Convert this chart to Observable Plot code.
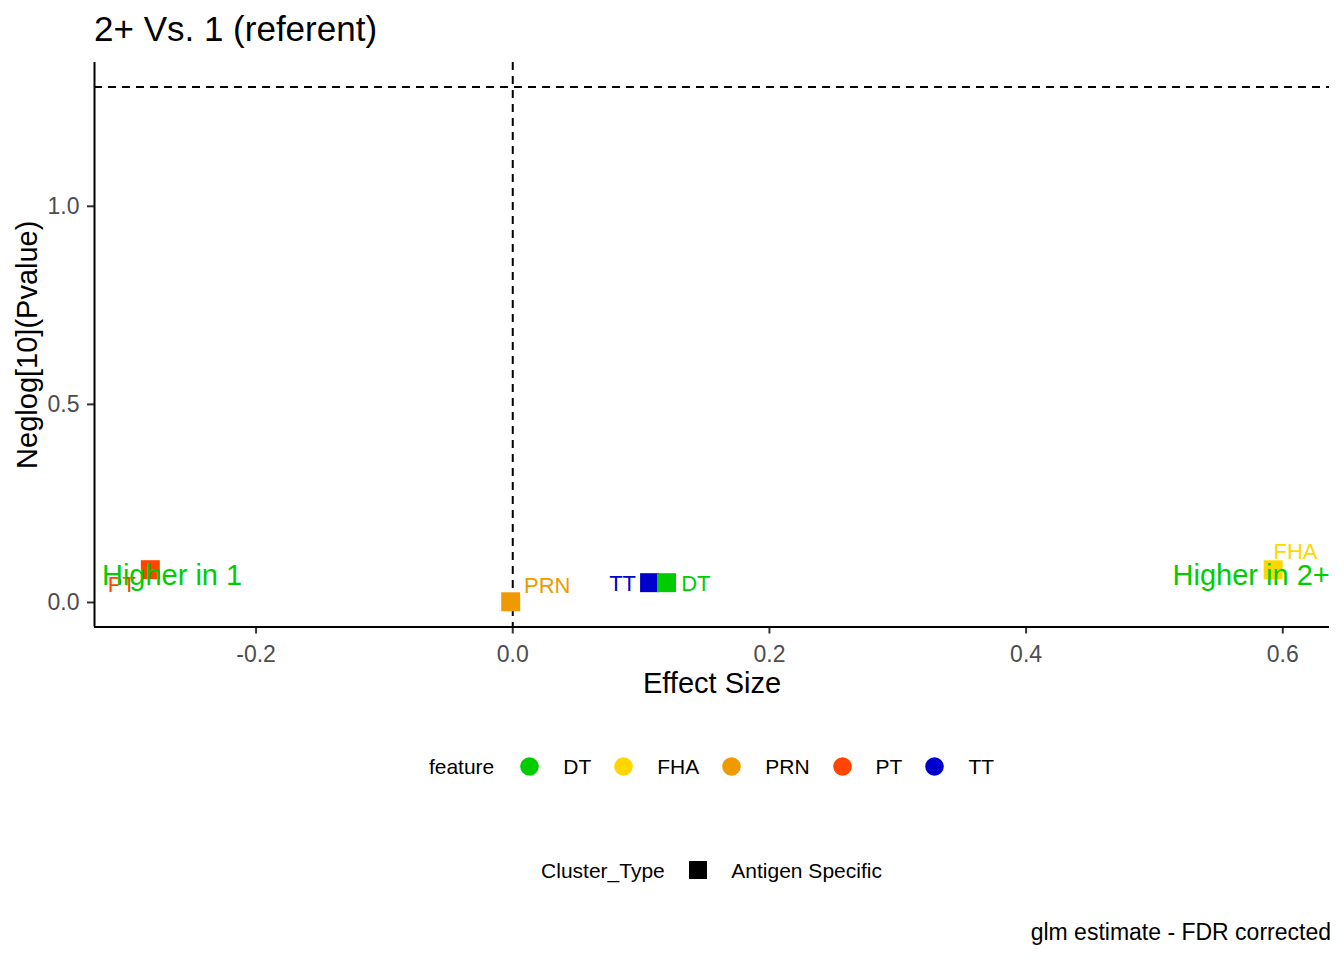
<!DOCTYPE html>
<html>
<head>
<meta charset="utf-8">
<script src="https://cdn.jsdelivr.net/npm/d3@7"></script>
<script src="https://cdn.jsdelivr.net/npm/@observablehq/plot@0.6"></script>
<style>
  html, body { margin: 0; padding: 0; background: #fff; }
  body { font-family: "Liberation Sans", Arial, sans-serif; color: #000; }
  #page { position: relative; width: 1344px; height: 960px; overflow: hidden; background: #fff; }
  #chart { position: absolute; left: 0; top: 0; }
  #title { position: absolute; left: 94px; top: 11px; font-size: 35px; line-height: 35px; white-space: nowrap; }
  .legend { position: absolute; left: 94px; width: 1235px; display: flex; justify-content: center; align-items: center; height: 24px; font-size: 21px; line-height: 21px; white-space: nowrap; }
  .legend .ttl { margin-right: 26px; }
  .legend svg { display: block; margin-right: 24px; }
  .legend .lab { margin-right: 23px; }
  .legend .lab:last-child { margin-right: 0; }
  #caption { position: absolute; right: 13px; top: 921px; font-size: 23px; line-height: 23px; white-space: nowrap; }
</style>
</head>
<body>
<div id="page">
  <div id="chart"></div>
  <div id="title">2+ Vs. 1 (referent)</div>
  <div id="legend1" class="legend" style="top:754px"></div>
  <div id="legend2" class="legend" style="top:858px"></div>
  <div id="caption">glm estimate - FDR corrected</div>
</div>
<script>
// ---- data ----
const features   = ["TT", "DT", "FHA", "PRN", "PT"];
const effectSize = [0.1066, 0.1198, 0.5925, -0.0016, -0.2824];
const negLog10P  = [0.050, 0.050, 0.0826, 0.0018, 0.0828];
const clusterType = ["Antigen Specific", "Antigen Specific", "Antigen Specific", "Antigen Specific", "Antigen Specific"];

const legendFeatures = ["DT", "FHA", "PRN", "PT", "TT"];
const featurePalette = ["#00CD00", "#FFD700", "#EE9A00", "#FF4500", "#0000CD"];
const clusterTypes = ["Antigen Specific"];

const xTicks = [-0.2, 0.0, 0.2, 0.4, 0.6];
const yTicks = [0.0, 0.5, 1.0];
const xDomain = [-0.3259, 0.6364];
const yDomain = [-0.0619, 1.363];

const pThreshold = 0.05;
const annotationLabels = ["Higher in 1", "Higher in 2+"];
const annotationX = [-0.3201, 0.6366];
const annotationY = [0.0682, 0.0682];

// ---- build tables ----
const points = features.map((f, i) => ({feature: f, x: effectSize[i], y: negLog10P[i], type: clusterType[i]}));
const annotations = annotationLabels.map((t, i) => ({label: t, x: annotationX[i], y: annotationY[i]}));

// label placement (repel-like offsets, pixels)
const labelOffset = {PT: [-28.5, 15], PRN: [36.5, -15.5], TT: [-27, 1.5], DT: [29.3, 1.5], FHA: [22.3, -18.3]};

const FONT = "Liberation Sans, Arial, sans-serif";
const fmt = d => d.toFixed(1);

const labelMarks = points.map(d => Plot.text([d], {
  x: "x", y: "y", text: "feature", fill: "feature",
  dx: labelOffset[d.feature][0], dy: labelOffset[d.feature][1],
  fontSize: 22, fontFamily: FONT, textAnchor: "middle"
}));

const plot = Plot.plot({
  width: 1344,
  height: 720,
  marginLeft: 94,
  marginRight: 15,
  marginTop: 62,
  marginBottom: 93.5,
  x: {domain: xDomain},
  y: {domain: yDomain},
  color: {domain: legendFeatures, range: featurePalette},
  style: {fontFamily: FONT, background: "#fff", overflow: "visible"},
  marks: [
    Plot.ruleY([-Math.log10(pThreshold)], {stroke: "#000", strokeWidth: 2, strokeDasharray: "8,6"}),
    Plot.ruleX([0], {stroke: "#000", strokeWidth: 2, strokeDasharray: "8,6"}),
    Plot.axisX({ticks: xTicks, tickFormat: fmt, tickSize: 7, tickPadding: 12, stroke: "#333333", strokeWidth: 2, fill: "#4D4D4D", fontSize: 23, label: null}),
    Plot.axisY({ticks: yTicks, tickFormat: fmt, tickSize: 7, tickPadding: 8, stroke: "#333333", strokeWidth: 2, fill: "#4D4D4D", fontSize: 23, label: null}),
    Plot.ruleY([yDomain[0]], {stroke: "#000", strokeWidth: 2}),
    Plot.ruleX([xDomain[0]], {stroke: "#000", strokeWidth: 2}),
    Plot.dot(points, {x: "x", y: "y", fill: "feature", symbol: "square", r: 10.7, stroke: "none"}),
    ...labelMarks,
    Plot.text(annotations.filter(d => d.x < 0), {x: "x", y: "y", text: "label", fill: "#00CD00", fontSize: 29, fontFamily: FONT, textAnchor: "start"}),
    Plot.text(annotations.filter(d => d.x >= 0), {x: "x", y: "y", text: "label", fill: "#00CD00", fontSize: 29, fontFamily: FONT, textAnchor: "end"}),
    Plot.text(["Effect Size"], {text: d => d, frameAnchor: "bottom", dy: 65.7, fontSize: 29, fontFamily: FONT, fill: "#000", textAnchor: "middle"}),
    Plot.text(["Neglog[10](Pvalue)"], {text: d => d, frameAnchor: "left", dx: -66.6, rotate: -90, textAnchor: "middle", fontSize: 29, fontFamily: FONT, fill: "#000"})
  ]
});
document.getElementById("chart").appendChild(plot);

// ---- legends ----
const l1 = document.getElementById("legend1");
let html1 = '<span class="ttl">feature</span>';
legendFeatures.forEach((f, i) => {
  html1 += `<svg width="19" height="19"><circle cx="9.5" cy="9.5" r="9.3" fill="${featurePalette[i]}"/></svg><span class="lab">${f}</span>`;
});
l1.innerHTML = html1;

const l2 = document.getElementById("legend2");
let html2 = '<span class="ttl" style="margin-right:24px">Cluster_Type</span>';
clusterTypes.forEach(t => {
  html2 += `<svg width="18.5" height="18.5"><rect x="0" y="0" width="18.5" height="18.5" fill="#000"/></svg><span class="lab">${t}</span>`;
});
l2.innerHTML = html2;
</script>
</body>
</html>
